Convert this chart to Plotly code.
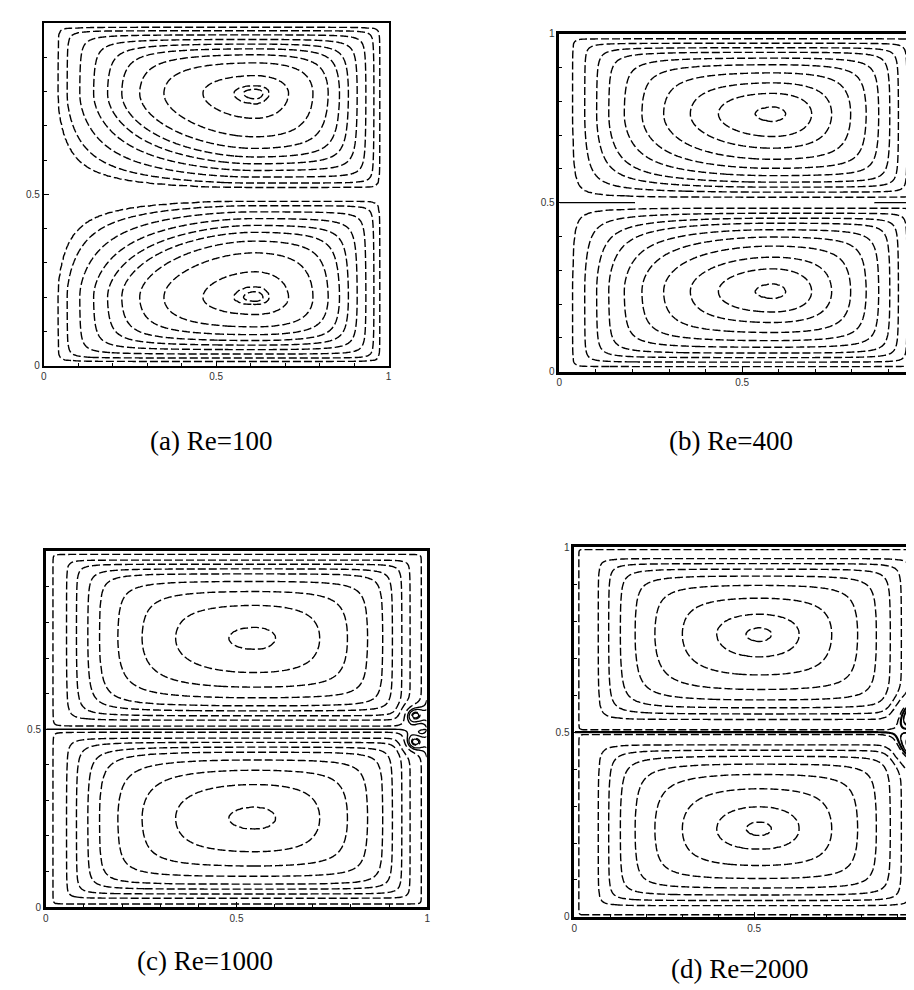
import numpy as np
import plotly.graph_objects as go

# ---------------- values ----------------
captions = ["(a) Re=100", "(b) Re=400", "(c) Re=1000", "(d) Re=2000"]

# primary vortex centres (x shared by upper/lower vortex)
centre_x = [0.614, 0.584, 0.547, 0.514]
upper_centre_y = [0.795, 0.763, 0.756, 0.765]
lower_centre_y = [0.199, 0.237, 0.250, 0.238]

# streamline corner shape: 0 = cup shaped, larger = squarer corners
corner_tight = [2.2, 2.6, 3.0, 3.2]   # lid side and downstream (right) side
corner_loose = [0.0, 0.8, 2.0, 2.4]   # upstream (left) side near mid-height
# roundness of the streamline profile at the vortex core
core_roundness = [0.25, 0.28, 0.32, 0.32]

# streamline levels, fraction of the largest |psi|
stream_levels = [
    [0.085, 0.136, 0.21, 0.29, 0.37, 0.45, 0.55, 0.68, 0.87, 0.975, 0.992],
    [0.08, 0.15, 0.22, 0.29, 0.38, 0.48, 0.6, 0.74, 0.87, 0.985],
    [0.045, 0.13, 0.19, 0.26, 0.33, 0.44, 0.58, 0.76, 0.97],
    [0.03, 0.17, 0.24, 0.32, 0.42, 0.55, 0.72, 0.9, 0.99],
]

# secondary eddies at the right wall near mid-height: x, y, radius, strength
eddy_x = [[], [], [0.961, 0.961], [0.935, 0.935]]
eddy_y = [[], [], [0.539, 0.464], [0.545, 0.462]]
eddy_r = [[], [], [0.03, 0.03], [0.045, 0.045]]
eddy_s = [[], [], [-0.155, 0.155], [-0.25, 0.25]]
eddy_rings = [[], [], [0.02, 0.05], [0.03, 0.075, 0.12]]

# dividing streamline at y = 0.5: style, width, x-gap where it is not drawn
dividing_line = [None, "solid", "solid", "solid"]
dividing_width = [0, 1.3, 1.4, 2.2]
dividing_gap = [None, (0.21, 0.86), None, None]

# axis tick labels
x_ticks = [[0, 0.5, 1], [0, 0.5], [0, 0.5, 1], [0, 0.5]]
y_ticks = [[0, 0.5], [0, 0.5, 1], [0, 0.5], [0, 0.5, 1]]

# ---------------- layout (pixels on the 914 x 990 page) ----------------
W, H = 914, 990
box_px = [  # left, right, top, bottom (right may pass the page edge)
    (33, 380, 9, 356),
    (552, 920, 20, 362),
    (35, 419, 544, 904),
    (567, 929, 540, 914),
]
caption_px = [(201, 432), (725, 432), (195, 959), (733, 967)]


def warp(u, c):
    return np.where(u < c, 0.5 * u / c, 0.5 + 0.5 * (u - c) / (1 - c))


def hump(s, eps):
    u = np.abs(2.0 * s - 1.0)
    return 1.0 - (np.sqrt(u ** 2 + eps ** 2) - eps) / (np.sqrt(1 + eps ** 2) - eps)


def combine(f, g, m):
    f = np.clip(f, 1e-9, 1)
    g = np.clip(g, 1e-9, 1)
    prod = f * g
    mm = np.maximum(m, 1e-3)
    soft = (f ** -mm + g ** -mm - 1.0) ** (-1.0 / mm)
    return np.where(m < 1e-3, prod, soft)


def stream_function(i, X, Y):
    eps = core_roundness[i]
    xc = centre_x[i]
    fx = hump(warp(np.clip(X, 0, 1), xc), eps)
    tu = np.clip((Y - 0.5) / 0.5, 0, 1)
    tl = np.clip((0.5 - Y) / 0.5, 0, 1)
    tcu = (upper_centre_y[i] - 0.5) / 0.5
    tcl = (0.5 - lower_centre_y[i]) / 0.5
    gu = hump(warp(tu, tcu), eps)
    gl = hump(warp(tl, tcl), eps)
    mu = np.where((X < xc) & (tu < tcu), corner_loose[i], corner_tight[i])
    ml = np.where((X < xc) & (tl < tcl), corner_loose[i], corner_tight[i])
    psi = np.where(Y >= 0.5, combine(fx, gu, mu), -combine(fx, gl, ml))
    for ex, ey, er, es in zip(eddy_x[i], eddy_y[i], eddy_r[i], eddy_s[i]):
        psi = psi + es * np.exp(-((X - ex) ** 2 + (Y - ey) ** 2) / er ** 2)
    return psi


N = 220
g = np.linspace(0.0015, 0.9985, N)
X, Y = np.meshgrid(g, g)
black = [[0, "black"], [1, "black"]]

fig = go.Figure()
layout = dict(
    width=W, height=H, margin=dict(l=0, r=0, t=0, b=0),
    paper_bgcolor="white", plot_bgcolor="white", showlegend=False,
    annotations=[],
)

for i in range(4):
    L, R, T, B = box_px[i]
    xdom = [L / W, min(R, W) / W]
    ydom = [1 - B / H, 1 - T / H]
    xmax = (min(R, W) - L) / (R - L)
    sfx = "" if i == 0 else str(i + 1)
    axis_common = dict(
        showgrid=False, zeroline=False, showline=True, linecolor="black",
        linewidth=2.5 if i else 2, mirror=True, ticks="inside", ticklen=5,
        tickcolor="black", tickfont=dict(family="Liberation Sans", size=10, color="#333"),
        minor=dict(ticks="inside", dtick=0.1, ticklen=3, tickcolor="black"),
    )
    layout["xaxis" + sfx] = dict(axis_common, domain=xdom, range=[0, xmax],
                                 anchor="y" + sfx, tickvals=x_ticks[i],
                                 ticktext=[f"{v:g}" for v in x_ticks[i]])
    layout["yaxis" + sfx] = dict(axis_common, domain=ydom, range=[0, 1],
                                 anchor="x" + sfx, tickvals=y_ticks[i],
                                 ticktext=[f"{v:g}" for v in y_ticks[i]])

    psi = stream_function(i, X, Y)
    lv = stream_levels[i]
    n = len(lv)
    src = [0.0] + lv + [1.0]
    dst = [0.0] + [k + 0.5 for k in range(n)] + [n]
    z = np.sign(psi) * np.interp(np.abs(psi), src, dst)
    z = np.round(z, 3)

    fig.add_trace(go.Contour(
        x=g, y=g, z=z, xaxis="x" + sfx, yaxis="y" + sfx,
        contours=dict(coloring="lines", start=-n + 0.5, end=n - 0.5, size=1),
        colorscale=black, showscale=False,
        line=dict(width=1.4, dash="8px,3px", smoothing=1), hoverinfo="skip",
    ))
    if dividing_line[i]:
        zd = np.round(psi, 4)
        if dividing_gap[i]:
            g0, g1 = dividing_gap[i]
            zd = np.where((X > g0) & (X < g1), np.nan, zd)
        fig.add_trace(go.Contour(
            x=g, y=g, z=zd, xaxis="x" + sfx, yaxis="y" + sfx,
            contours=dict(coloring="lines", start=0, end=0.0001, size=1),
            colorscale=black, showscale=False,
            line=dict(width=dividing_width[i], dash=dividing_line[i], smoothing=1),
            hoverinfo="skip",
        ))
    if eddy_x[i]:
        half = np.where(Y >= 0.5, 1.0, -1.0)
        near = np.zeros_like(X, dtype=bool)
        for ex, ey, er in zip(eddy_x[i], eddy_y[i], eddy_r[i]):
            near |= ((X - ex) ** 2 + (Y - ey) ** 2) < (1.8 * er) ** 2
        ze = np.where(near, -half * psi, np.nan)
        ze = np.round(ze, 4)
        rings = eddy_rings[i]
        step = rings[1] - rings[0]
        fig.add_trace(go.Contour(
            x=g, y=g, z=ze, xaxis="x" + sfx, yaxis="y" + sfx,
            contours=dict(coloring="lines", start=rings[0], end=rings[-1] + 1e-6,
                          size=step),
            colorscale=black, showscale=False,
            line=dict(width=1.3, smoothing=1), hoverinfo="skip",
        ))

    cx, cy = caption_px[i]
    layout["annotations"].append(dict(
        text=captions[i], x=cx / W, y=1 - cy / H, xref="paper", yref="paper",
        showarrow=False, xanchor="center", yanchor="middle",
        font=dict(family="Liberation Serif", size=27, color="black"),
    ))

fig.update_layout(**layout)
fig.write_html("out.html")
